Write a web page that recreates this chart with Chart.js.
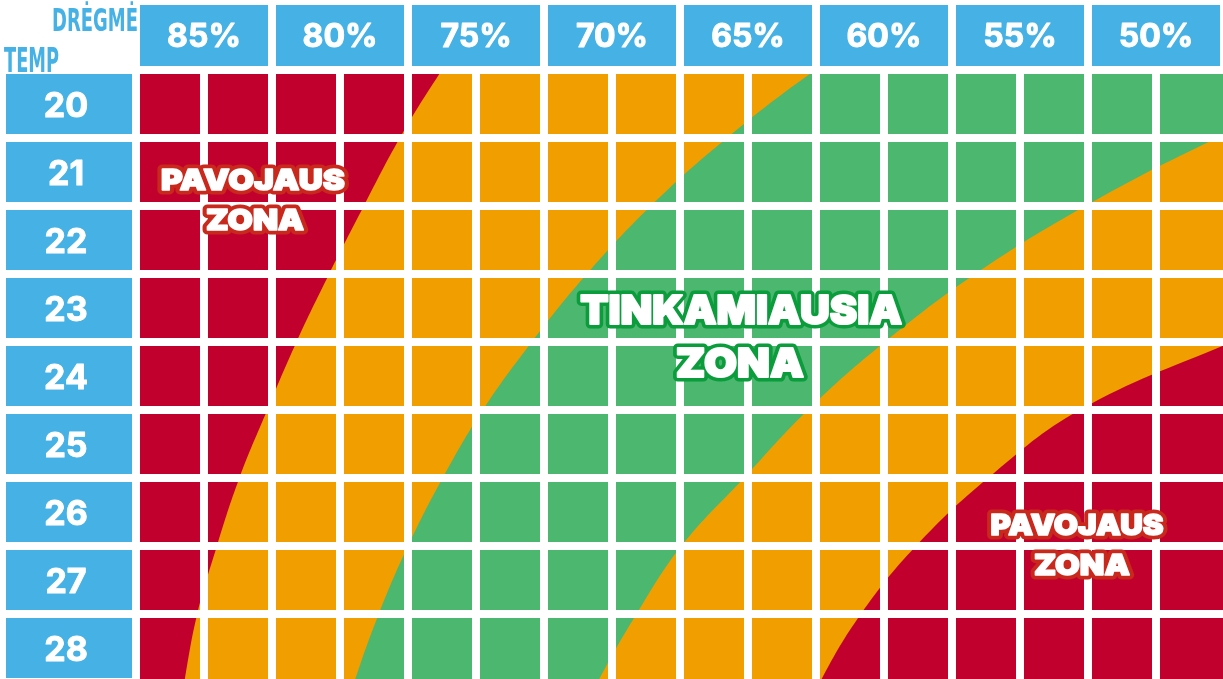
<!DOCTYPE html>
<html>
<head>
<meta charset="utf-8">
<script src="https://cdn.jsdelivr.net/npm/chart.js@4.4.1/dist/chart.umd.min.js"></script>
<style>
  html, body { margin: 0; padding: 0; background: #fff; }
  #wrap { width: 1223px; height: 679px; position: relative; }
</style>
</head>
<body>
<div id="wrap"><canvas id="zones"></canvas></div>
<script>
const humidityLabels = ['85%', '80%', '75%', '70%', '65%', '60%', '55%', '50%'];
const tempLabels = ['20', '21', '22', '23', '24', '25', '26', '27', '28'];

// zone borders: column position (16 columns, two per humidity step)
// where each border crosses a row line (row line 0 = top of the 20 row)
const rowLines      = [-1, 0, 1, 2, 3, 4, 5, 6, 7, 8, 9, 10];
const redToOrange   = [5.2, 4.50, 3.88, 3.35, 2.84, 2.36, 1.93, 1.52, 1.19, 0.90, 0.71, 0.55];
const orangeToGreen = [11.5, 9.99, 8.69, 7.57, 6.63, 5.82, 5.10, 4.51, 4.00, 3.57, 3.21, 2.90];
const greenToOrange = [21.0, 18.2, 15.9, 13.96, 12.34, 11.01, 9.88, 8.94, 8.02, 7.36, 6.79, 6.30];
const orangeToRed   = [28.0, 25.0, 22.5, 20.5, 18.6, 16.12, 13.88, 12.53, 11.47, 10.66, 10.06, 9.60];

const colGaps = [0, 1, 2, 3, 4, 5, 6, 7, 8, 9, 10, 11, 12, 13, 14, 15];
const rowGaps = [0, 1, 2, 3, 4, 5, 6, 7, 8];

const RED = '#c1002e';
const ORANGE = '#f09e00';
const GREEN = '#4bb76f';
const BLUE = '#45b1e5';
const CELL = 68;

function edge(xs) {
  return xs.map(function(x, i) { return {x: x, y: rowLines[i]}; });
}

// text with optional coloured outline; "bold" adds a thin stroke in the fill colour
function word(ctx, text, cx, base, font, width, fill, outline, lw, bold) {
  ctx.save();
  ctx.font = font;
  const w = ctx.measureText(text).width;
  ctx.translate(cx, base);
  if (width) ctx.scale(width / w, 1);
  ctx.textAlign = 'center';
  ctx.textBaseline = 'alphabetic';
  ctx.lineJoin = 'round';
  if (outline) {
    ctx.lineWidth = lw;
    ctx.strokeStyle = outline;
    ctx.strokeText(text, 0, 0);
  }
  if (bold) {
    ctx.lineWidth = bold;
    ctx.strokeStyle = fill;
    ctx.strokeText(text, 0, 0);
  }
  ctx.fillStyle = fill;
  ctx.fillText(text, 0, 0);
  ctx.restore();
}

const board = {
  id: 'board',
  beforeDatasetsDraw(chart) {
    const {ctx, chartArea: a} = chart;
    ctx.save();
    ctx.fillStyle = RED;
    ctx.fillRect(a.left, a.top, a.right - a.left, a.bottom - a.top);
    ctx.restore();
  },
  afterDraw(chart) {
    const ctx = chart.ctx;
    const sx = chart.scales.x, sy = chart.scales.y;
    const px = v => sx.getPixelForValue(v);
    const py = v => sy.getPixelForValue(v);

    // humidity header
    humidityLabels.forEach(function(t, i) {
      const x0 = px(2 * i) + 4, x1 = Math.min(px(2 * i + 2) - 4, chart.width);
      ctx.fillStyle = BLUE;
      ctx.fillRect(x0, 5, x1 - x0, py(0) - 4 - 5);
      word(ctx, t, (x0 + x1) / 2, 47, '700 32px Inter', null, '#fff', null, 0, 1);
    });

    // temperature column
    tempLabels.forEach(function(t, r) {
      const y0 = py(r) + 4, y1 = py(r + 1) - 4;
      ctx.fillStyle = BLUE;
      ctx.fillRect(6, y0, px(0) - 4 - 6, y1 - y0);
      word(ctx, t, 66, (y0 + y1) / 2 + 13, '700 34px Inter', null, '#fff', null, 0, 1);
    });

    // axis titles
    ctx.save();
    ctx.textAlign = 'left';
    ctx.fillStyle = BLUE;
    ctx.font = 'bold 32px "DejaVu Sans"';
    let w = ctx.measureText('DRĖGMĖ').width;
    ctx.translate(52, 31);
    ctx.scale(86 / w, 1);
    ctx.fillText('DRĖGMĖ', 0, 0);
    ctx.restore();
    ctx.save();
    ctx.textAlign = 'left';
    ctx.fillStyle = BLUE;
    ctx.font = 'bold 33px "DejaVu Sans"';
    w = ctx.measureText('TEMP').width;
    ctx.translate(4, 72);
    ctx.scale(55 / w, 1);
    ctx.fillText('TEMP', 0, 0);
    ctx.restore();

    // zone names
    const red = '#c9281c', green = '#0b9c3c';
    word(ctx, 'PAVOJAUS', px(1.72), py(1.77), '900 29px Inter', 184, '#fff', red, 9, 1.6);
    word(ctx, 'ZONA', px(1.75), py(2.36), '900 29px Inter', 98, '#fff', red, 9, 1.6);
    word(ctx, 'TINKAMIAUSIA', px(8.90), py(3.74), '900 40px Inter', 322, '#fff', green, 9, 2);
    word(ctx, 'ZONA', px(8.88), py(4.51), '900 40px Inter', 128, '#fff', green, 9, 2);
    word(ctx, 'PAVOJAUS', px(13.84), py(6.84), '900 29px Inter', 173, '#fff', red, 9, 1.6);
    word(ctx, 'ZONA', px(13.91), py(7.42), '900 29px Inter', 96, '#fff', red, 9, 1.6);
  }
};

const zoneFill = {value: 40};

new Chart(document.getElementById('zones'), {
  type: 'line',
  data: {
    datasets: [
      {label: 'orange', data: edge(redToOrange), backgroundColor: ORANGE, fill: zoneFill, order: 4},
      {label: 'green', data: edge(orangeToGreen), backgroundColor: GREEN, fill: zoneFill, order: 3},
      {label: 'orange 2', data: edge(greenToOrange), backgroundColor: ORANGE, fill: zoneFill, order: 2},
      {label: 'red', data: edge(orangeToRed), backgroundColor: RED, fill: zoneFill, order: 1}
    ]
  },
  plugins: [board],
  options: {
    responsive: true,
    maintainAspectRatio: false,
    animation: false,
    indexAxis: 'y',
    layout: {padding: {left: 136, top: 70, right: 0, bottom: 0}},
    elements: {
      line: {borderWidth: 0, tension: 0.4, capBezierPoints: false},
      point: {radius: 0, hoverRadius: 0}
    },
    plugins: {legend: {display: false}, tooltip: {enabled: false}},
    events: [],
    scales: {
      x: {
        type: 'linear',
        min: 0,
        max: (1223 - 136) / CELL,
        afterBuildTicks: function(s) { s.ticks = colGaps.map(v => ({value: v})); },
        ticks: {display: false},
        border: {display: false},
        grid: {color: '#fff', lineWidth: 8, drawTicks: false, z: 1}
      },
      y: {
        type: 'linear',
        reverse: true,
        min: 0,
        max: (679 - 70) / CELL,
        afterBuildTicks: function(s) { s.ticks = rowGaps.map(v => ({value: v})); },
        ticks: {display: false},
        border: {display: false},
        grid: {color: '#fff', lineWidth: 8, drawTicks: false, z: 1}
      }
    }
  }
});
</script>
</body>
</html>
